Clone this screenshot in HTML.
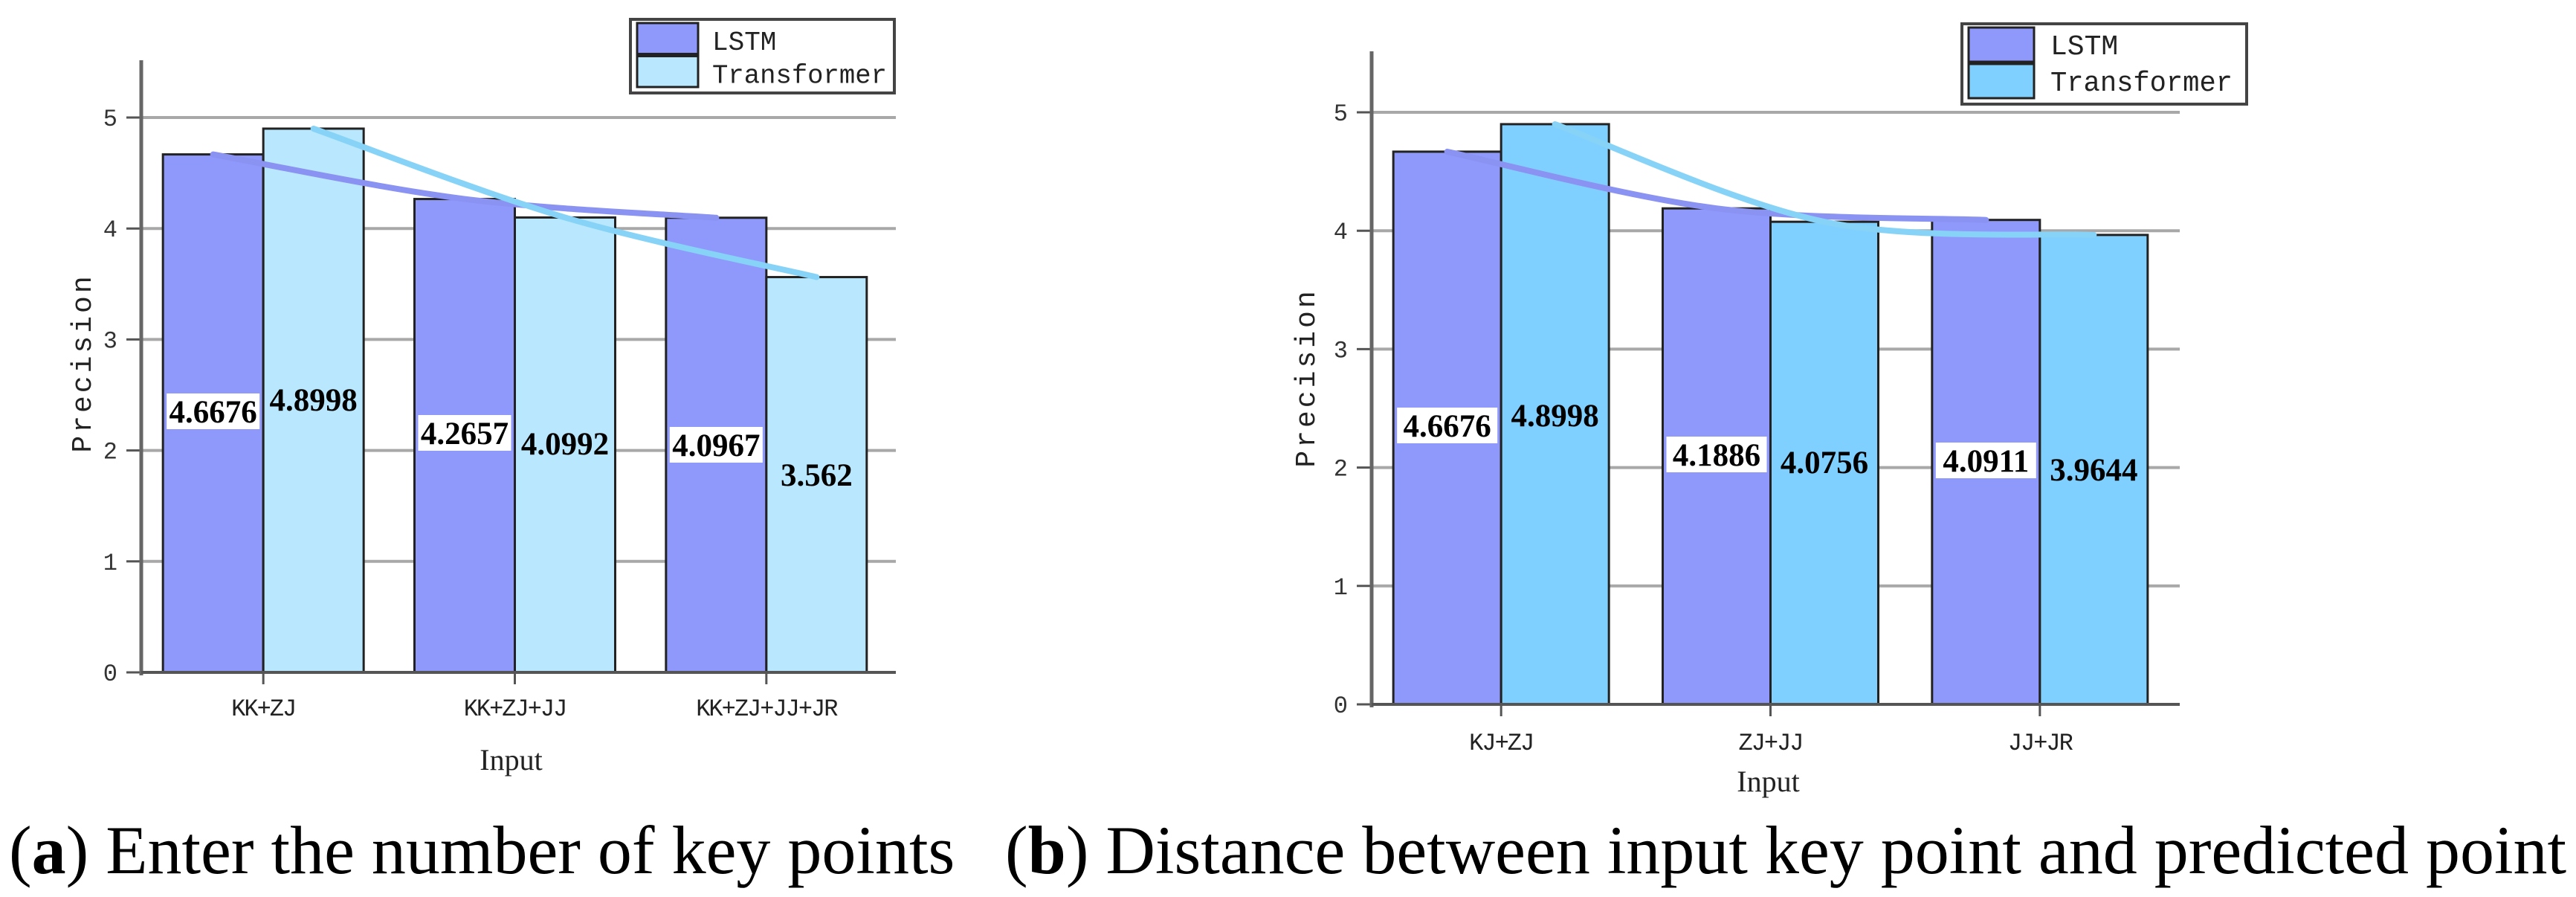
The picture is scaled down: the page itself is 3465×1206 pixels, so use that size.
<!DOCTYPE html>
<html><head><meta charset="utf-8">
<style>
html,body{margin:0;padding:0;background:#fff;}
svg{display:block;}
</style></head>
<body>
<svg id="fig" width="3465" height="1206" viewBox="0 0 3465 1206" xmlns="http://www.w3.org/2000/svg">
<text x="12" y="1174" font-family="Liberation Serif, serif" font-size="92" fill="#000">(<tspan font-weight="bold">a</tspan>) Enter the number of key points</text>
<text x="1352" y="1174" font-family="Liberation Serif, serif" font-size="92" fill="#000">(<tspan font-weight="bold">b</tspan>) Distance between input key point and predicted point</text>
</svg>
<script>
const categoriesA = ["KK+ZJ", "KK+ZJ+JJ", "KK+ZJ+JJ+JR"];
const lstmA = [4.6676, 4.2657, 4.0967];
const transA = [4.8998, 4.0992, 3.562];
const labelsLstmA = ["4.6676", "4.2657", "4.0967"];
const labelsTransA = ["4.8998", "4.0992", "3.562"];
const categoriesB = ["KJ+ZJ", "ZJ+JJ", "JJ+JR"];
const lstmB = [4.6676, 4.1886, 4.0911];
const transB = [4.8998, 4.0756, 3.9644];
const labelsLstmB = ["4.6676", "4.1886", "4.0911"];
const labelsTransB = ["4.8998", "4.0756", "3.9644"];
const yTicks = [0, 1, 2, 3, 4, 5];
const legendNames = ["LSTM", "Transformer"];

const NS = "http://www.w3.org/2000/svg";
const svg = document.getElementById("fig");
function mk(tag, attrs, parent) {
  const e = document.createElementNS(NS, tag);
  for (const k in attrs) e.setAttribute(k, attrs[k]);
  (parent || svg).appendChild(e);
  return e;
}

function drawChart(cfg) {
  const g = mk("g", {});
  
  
  const y = v => cfg.y0 - v * cfg.unit;
  const groupW = (cfg.xR - cfg.x0) / cfg.cats.length;
  const barW = cfg.barW;
  const center = i => cfg.x0 + groupW * (i + 0.5) + cfg.shift;

  yTicks.forEach(t => {
    if (t > 0) {
      const gl = mk("line", {x1: cfg.x0, x2: cfg.xR, y1: y(t), y2: y(t), stroke: "#a8a8a8", "stroke-width": 4}, g);
      
      
    }
    const tk = mk("line", {x1: cfg.x0 - 20, x2: cfg.x0, y1: y(t), y2: y(t), stroke: "#555", "stroke-width": 3}, g);
    
    
    const tl = mk("text", {x: cfg.x0 - 32, y: y(t) + 11, "text-anchor": "end", "font-family": "Liberation Mono, monospace", "font-size": 32, fill: "#333"}, g);
    tl.textContent = t;
    
    
  });

  cfg.cats.forEach((c, i) => {
    const cx = center(i);
    const b1 = mk("rect", {x: cx - barW, y: y(cfg.s1[i]), width: barW, height: cfg.y0 - y(cfg.s1[i]), fill: "#8f99fc", stroke: "#222", "stroke-width": 3}, g);
    
    
    const b2 = mk("rect", {x: cx, y: y(cfg.s2[i]), width: barW, height: cfg.y0 - y(cfg.s2[i]), fill: cfg.c2, stroke: "#222", "stroke-width": 3}, g);
    
    
  });

  function curve(vals, off, color, nm) {
    const pts = vals.map((v, i) => [center(i) + off, y(v)]);
    let d = "M" + pts[0][0] + "," + pts[0][1];
    for (let i = 0; i < pts.length - 1; i++) {
      const p0 = pts[Math.max(0, i - 1)], p1 = pts[i], p2 = pts[i + 1], p3 = pts[Math.min(pts.length - 1, i + 2)];
      const c1 = [p1[0] + (p2[0] - p0[0]) / 6, p1[1] + (p2[1] - p0[1]) / 6];
      const c2 = [p2[0] - (p3[0] - p1[0]) / 6, p2[1] - (p3[1] - p1[1]) / 6];
      d += " C" + c1 + " " + c2 + " " + p2;
    }
    const p = mk("path", {d: d, fill: "none", stroke: color, "stroke-width": 8, "stroke-linecap": "round"}, g);
    
    
  }
  curve(cfg.s1, -barW / 2, "#8a92f2", "lstm-trend-line");
  curve(cfg.s2, barW / 2, "#86d3f7", "transformer-trend-line");

  cfg.cats.forEach((c, i) => {
    const cx = center(i);
    const ly = cfg.lY1[i], ty = cfg.lY2[i];
    const bx = mk("rect", {x: cx - barW + 5, y: ly - 24, width: barW - 10, height: 48, fill: "#fff"}, g);
    
    
    const t1 = mk("text", {x: cx - barW / 2, y: ly + 15, "text-anchor": "middle", "font-family": "Liberation Serif, serif", "font-weight": "bold", "font-size": 43, fill: "#000"}, g);
    t1.textContent = cfg.l1[i];
    
    
    const t2 = mk("text", {x: cx + barW / 2, y: ty + 15, "text-anchor": "middle", "font-family": "Liberation Serif, serif", "font-weight": "bold", "font-size": 43, fill: "#000"}, g);
    t2.textContent = cfg.l2[i];
    
    
  });

  const ya = mk("line", {x1: cfg.x0, x2: cfg.x0, y1: cfg.yTop, y2: cfg.y0 + 4, stroke: "#666", "stroke-width": 5}, g);
  
  
  const xa = mk("line", {x1: cfg.x0, x2: cfg.xR, y1: cfg.y0, y2: cfg.y0, stroke: "#555", "stroke-width": 4}, g);
  
  
  cfg.cats.forEach((c, i) => {
    const cx = center(i);
    const tk = mk("line", {x1: cx, x2: cx, y1: cfg.y0, y2: cfg.y0 + 16, stroke: "#555", "stroke-width": 3}, g);
    
    
    const xl = mk("text", {x: cx, y: cfg.xlY, "text-anchor": "middle", "font-family": "Liberation Mono, monospace", "font-size": 32, fill: "#222", "letter-spacing": "-2"}, g);
    xl.textContent = c;
    
    
  });

  const xt = mk("text", {x: (cfg.x0 + cfg.xR) / 2 - 10, y: cfg.inY, "text-anchor": "middle", "font-family": "Liberation Serif, serif", "font-size": 40, fill: "#222"}, g);
  xt.textContent = "Input";
  
  
  const yt = mk("text", {x: 0, y: 0, transform: "translate(" + cfg.ylX + "," + cfg.ylY + ") rotate(-90)", "text-anchor": "middle", "font-family": "Liberation Mono, monospace", "font-size": 38, "letter-spacing": "4", fill: "#222"}, g);
  yt.textContent = "Precision";
  
  

  const lg = mk("g", {}, g);
  
  
  const L = cfg.leg;
  mk("rect", {x: L.x, y: L.y, width: L.w, height: L.h, fill: "#fff", stroke: "#444", "stroke-width": 4}, lg);
  const cols = ["#8f99fc", cfg.c2];
  legendNames.forEach((n, i) => {
    const sy = L.y + 5 + i * (L.h - 10) / 2;
    const sw = mk("rect", {x: L.x + 9, y: sy, width: L.sw, height: (L.h - 10) / 2 - 3, fill: cols[i], stroke: "#222", "stroke-width": 3}, lg);
    
    
    const attrs = {x: L.x + L.tx, y: sy + 36, "font-family": "Liberation Mono, monospace", "font-size": L.fs, fill: "#222"};
    if (i === 1) { attrs.textLength = L.tl; attrs.lengthAdjust = "spacingAndGlyphs"; }
    const lt = mk("text", attrs, lg);
    lt.textContent = n;
    
    
  });
}

drawChart({name: "chart-a", cats: categoriesA, s1: lstmA, s2: transA, l1: labelsLstmA, l2: labelsTransA,
  x0: 190, xR: 1205, y0: 904, unit: 149.2, yTop: 81, barW: 135, shift: -5, c2: "#b9e7fd",
  lY1: [553, 582, 598], lY2: [537, 596, 638], xlY: 962, inY: 1035, ylX: 122, ylY: 488,
  leg: {x: 848, y: 26, w: 355, h: 99, sw: 82, tx: 110, fs: 36, tl: 235}});
drawChart({name: "chart-b", cats: categoriesB, s1: lstmB, s2: transB, l1: labelsLstmB, l2: labelsTransB,
  x0: 1845, xR: 2932, y0: 947, unit: 159.2, yTop: 69, barW: 145, shift: -7, c2: "#80d0ff",
  lY1: [572, 611, 619], lY2: [558, 621, 631], xlY: 1008, inY: 1064, ylX: 1768, ylY: 508,
  leg: {x: 2639, y: 32, w: 383, h: 108, sw: 88, tx: 119, fs: 38, tl: 245}});
</script>
</body></html>
